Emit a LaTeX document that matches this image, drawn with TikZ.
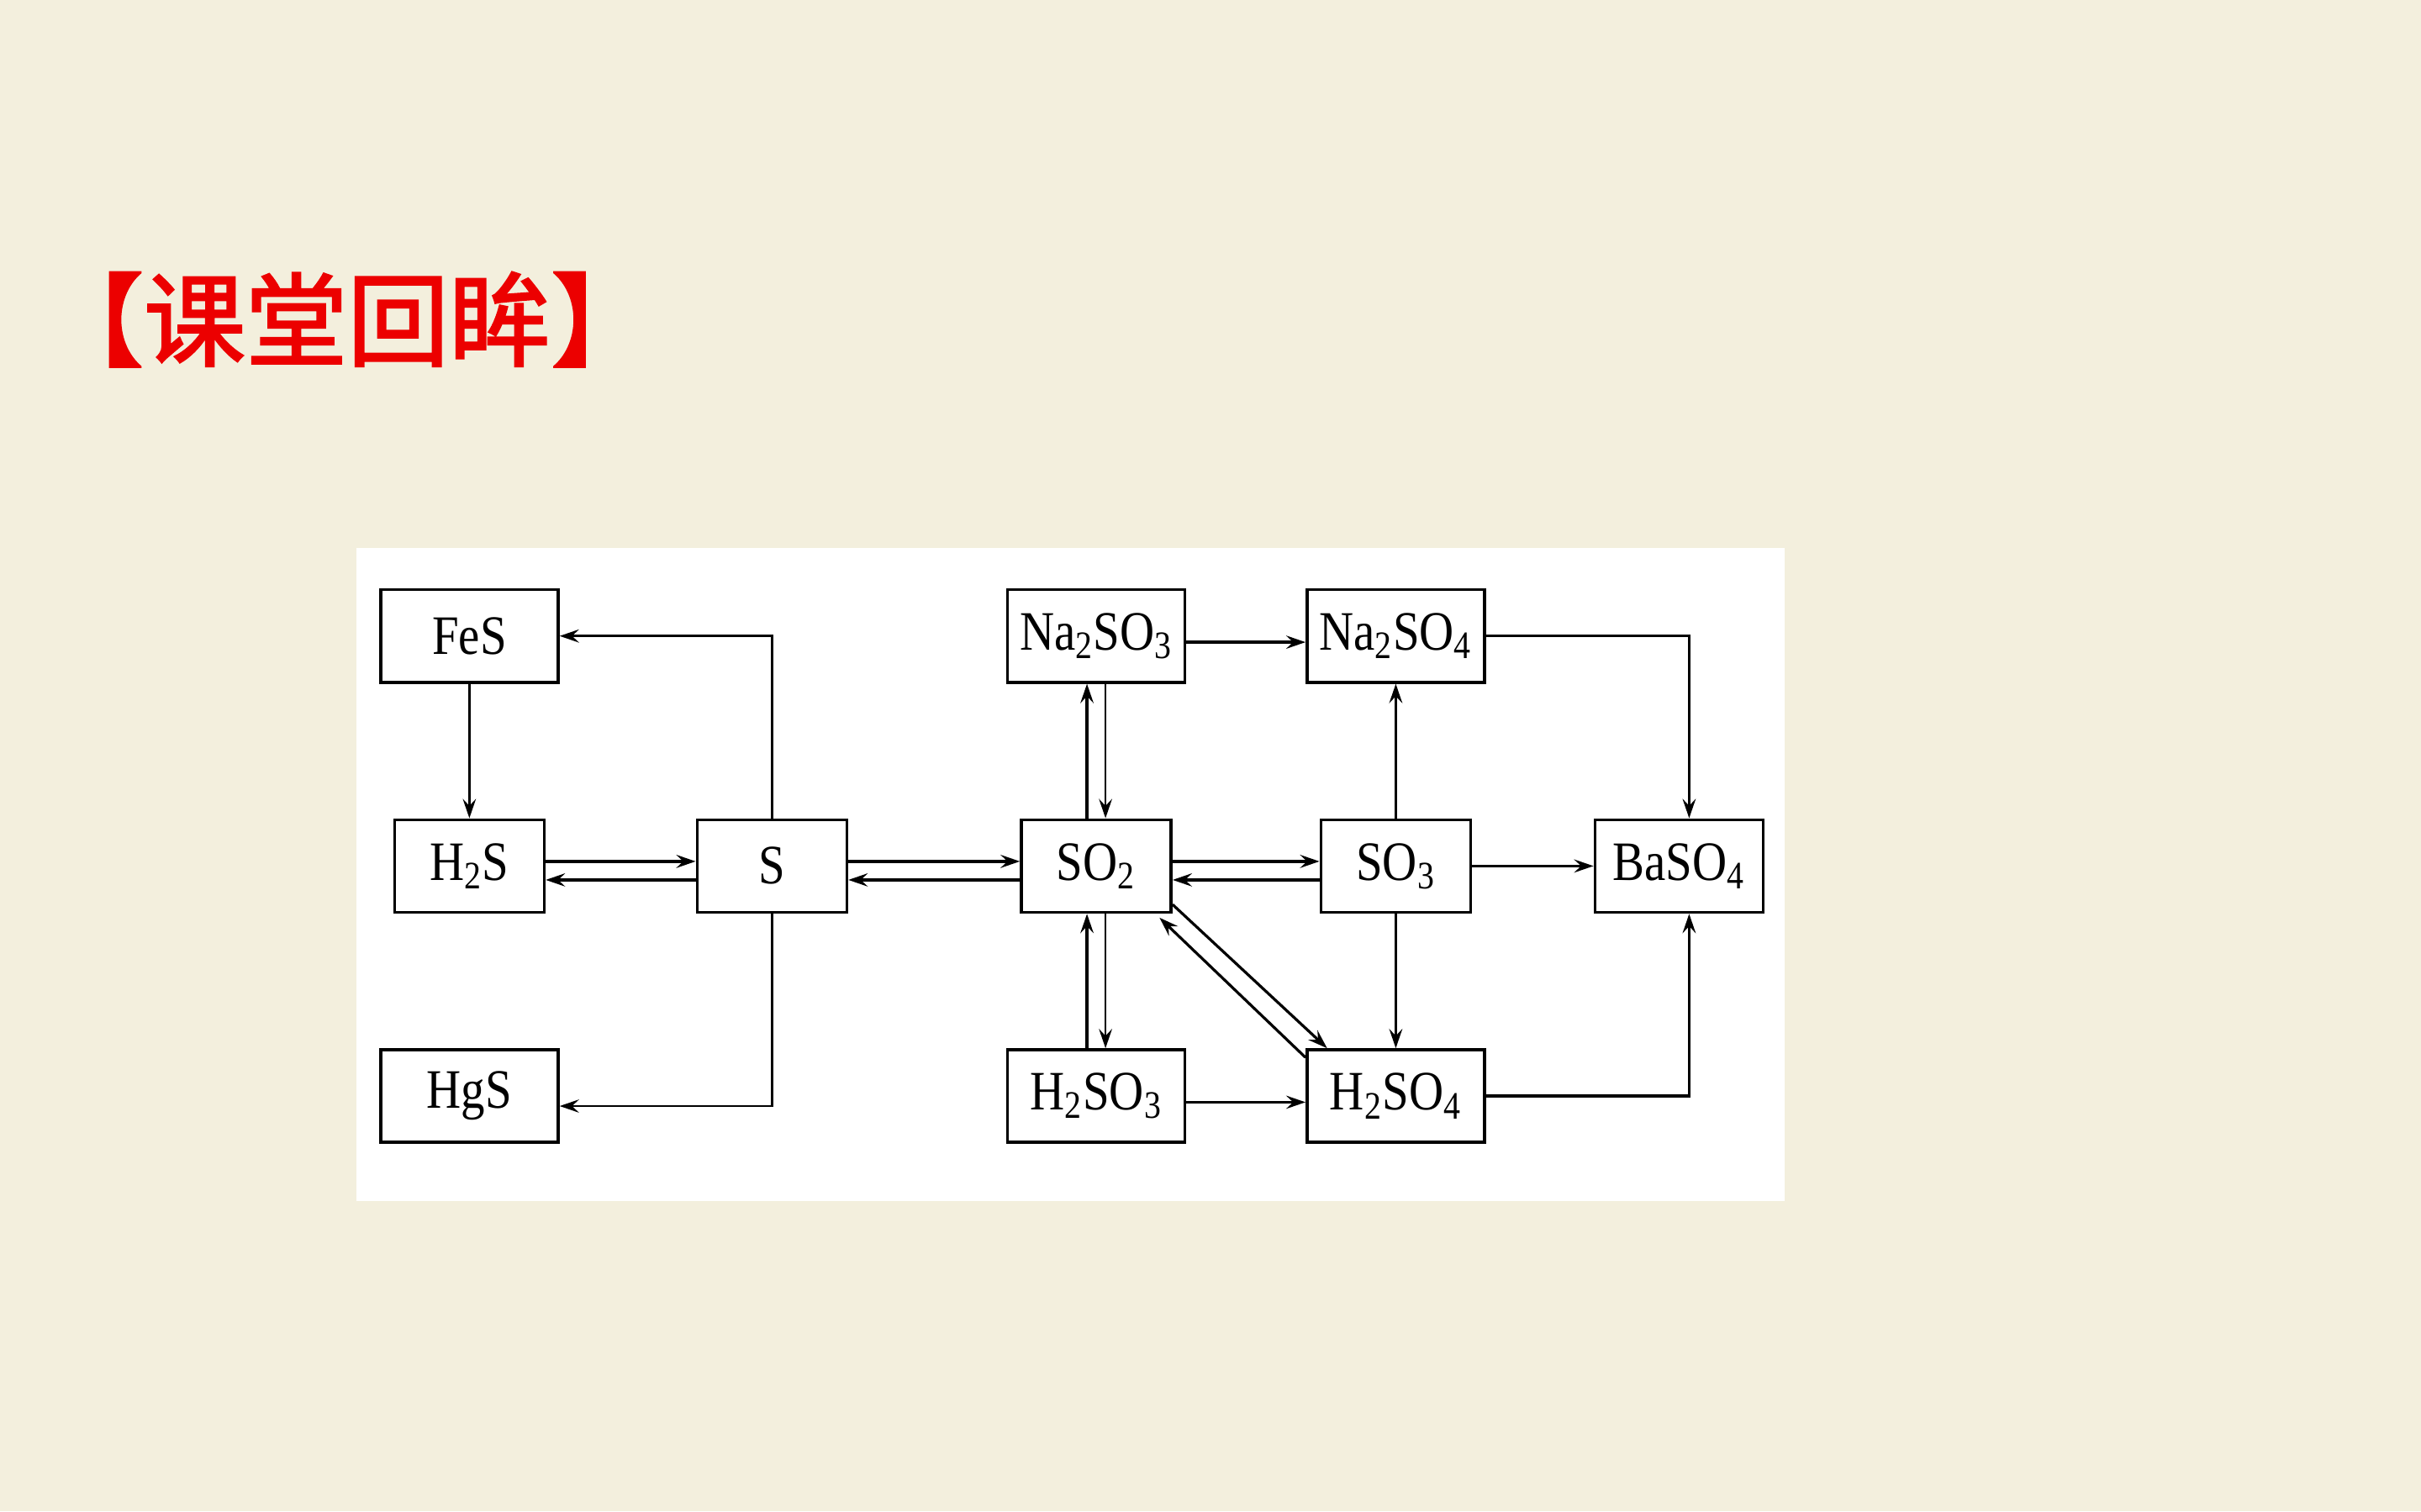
\documentclass[tikz,border=0pt]{standalone}
\usepackage{fontspec}
\setmainfont{Liberation Serif}[FakeStretch=0.86]
\newfontfamily\cjk[FakeBold=2]{Noto Sans CJK SC}
\usetikzlibrary{arrows.meta}
\definecolor{paper}{RGB}{243,239,221}
\definecolor{titlered}{RGB}{236,0,0}

\begin{document}
\begin{tikzpicture}[x=0.2mm, y=-0.2mm,
    box/.style={draw, line width=1.1pt, minimum height=12mm, inner sep=0pt,
        font=\fontsize{20.5}{20.5}\selectfont},
    wide/.style={box, minimum width=23mm},
    narrow/.style={box, minimum width=19.4mm},
    conn/.style={line width=1pt, -{Stealth[length=2.5mm, width=1.7mm, inset=0.9mm]}},
    thinconn/.style={conn, line width=0.8pt}]
    \fill[paper] (0,0) rectangle (1568,979);
    \fill[white] (231,355) rectangle (1156,778);

    \node[text=titlered, font=\cjk\fontsize{37.5}{37.5}\selectfont] (title) at (225,207) {【课堂回眸】};

    % left column and S
    \node[wide] (FeS) at (304,412) {FeS};
    \node[narrow] (H2S) at (304,561) {H\textsubscript{2}S};
    \node[wide] (HgS) at (304,710) {HgS};
    \node[narrow] (S) at (500,561) {S};

    % oxides, acids and salts
    \node[wide] (Na2SO3) at (710,412) {Na\textsubscript{2}SO\textsubscript{3}};
    \node[narrow] (SO2) at (710,561) {SO\textsubscript{2}};
    \node[wide] (H2SO3) at (710,710) {H\textsubscript{2}SO\textsubscript{3}};
    \node[wide] (Na2SO4) at (904,412) {Na\textsubscript{2}SO\textsubscript{4}};
    \node[narrow] (SO3) at (904,561) {SO\textsubscript{3}};
    \node[wide] (H2SO4) at (904,710) {H\textsubscript{2}SO\textsubscript{4}};
    \node[box, minimum width=21.8mm] (BaSO4) at (1087.5,561) {BaSO\textsubscript{4}};

    % around S
    \draw[conn] (S.north) |- (FeS.east);
    \draw[thinconn] (FeS.south) -- (H2S.north);
    \draw[conn] ([yshift=0.6mm]H2S.east) -- ([yshift=0.6mm]S.west);
    \draw[conn] ([yshift=-1.8mm]S.west) -- ([yshift=-1.8mm]H2S.east);
    \draw[thinconn] (S.south) |- ([yshift=-1.3mm]HgS.east);
    \draw[conn] ([yshift=0.6mm]S.east) -- ([yshift=0.6mm]SO2.west);
    \draw[conn] ([yshift=-1.8mm]SO2.west) -- ([yshift=-1.8mm]S.east);

    % around SO2
    \draw[conn] ([xshift=-1.2mm]SO2.north) -- ([xshift=-1.2mm]Na2SO3.south);
    \draw[thinconn] ([xshift=1.2mm]Na2SO3.south) -- ([xshift=1.2mm]SO2.north);
    \draw[conn] ([xshift=-1.2mm]H2SO3.north) -- ([xshift=-1.2mm]SO2.south);
    \draw[thinconn] ([xshift=1.2mm]SO2.south) -- ([xshift=1.2mm]H2SO3.north);
    \draw[conn] ([yshift=0.6mm]SO2.east) -- ([yshift=0.6mm]SO3.west);
    \draw[conn] ([yshift=-1.8mm]SO3.west) -- ([yshift=-1.8mm]SO2.east);
    \draw[conn] ([yshift=1.2mm]SO2.south east) -- ([xshift=2.8mm]H2SO4.north west);
    \draw[conn] ([yshift=-1.2mm]H2SO4.north west) -- ([xshift=-1.7mm,yshift=-0.5mm]SO2.south east);

    % to the sulfates
    \draw[conn] ([yshift=-0.8mm]Na2SO3.east) -- ([yshift=-0.8mm]Na2SO4.west);
    \draw[conn] ([yshift=-0.8mm]H2SO3.east) -- ([yshift=-0.8mm]H2SO4.west);
    \draw[conn] (SO3.north) -- (Na2SO4.south);
    \draw[conn] (SO3.south) -- (H2SO4.north);
    \draw[conn] (SO3.east) -- (BaSO4.west);
    \draw[conn] (Na2SO4.east) -| ([xshift=1.3mm]BaSO4.north);
    \draw[conn] (H2SO4.east) -| ([xshift=1.3mm]BaSO4.south);
\end{tikzpicture}
\end{document}
